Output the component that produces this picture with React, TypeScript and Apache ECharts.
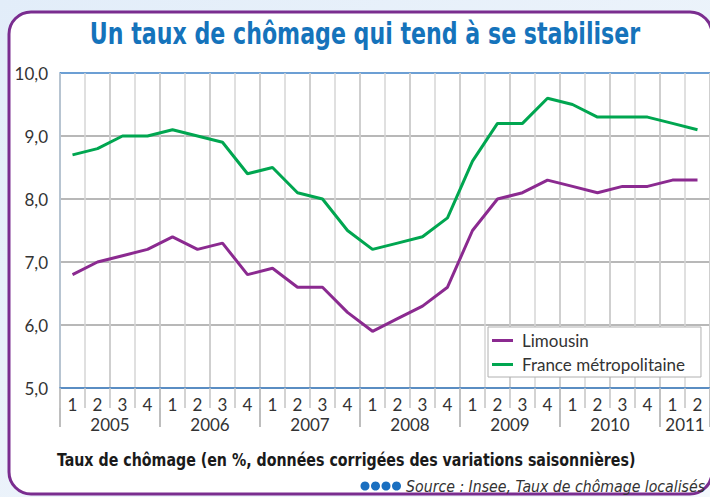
import React, { useEffect, useRef } from "react";
import * as echarts from "echarts";

const years = ["2005", "2006", "2007", "2008", "2009", "2010", "2011"];
const quarterIds = [
  "2005-1", "2005-2", "2005-3", "2005-4",
  "2006-1", "2006-2", "2006-3", "2006-4",
  "2007-1", "2007-2", "2007-3", "2007-4",
  "2008-1", "2008-2", "2008-3", "2008-4",
  "2009-1", "2009-2", "2009-3", "2009-4",
  "2010-1", "2010-2", "2010-3", "2010-4",
  "2011-1", "2011-2",
];
const limousin = [
  6.8, 7.0, 7.1, 7.2,
  7.4, 7.2, 7.3, 6.8,
  6.9, 6.6, 6.6, 6.2,
  5.9, 6.1, 6.3, 6.6,
  7.5, 8.0, 8.1, 8.3,
  8.2, 8.1, 8.2, 8.2,
  8.3, 8.3,
];
const france = [
  8.7, 8.8, 9.0, 9.0,
  9.1, 9.0, 8.9, 8.4,
  8.5, 8.1, 8.0, 7.5,
  7.2, 7.3, 7.4, 7.7,
  8.6, 9.2, 9.2, 9.6,
  9.5, 9.3, 9.3, 9.3,
  9.2, 9.1,
];
const yearLabelIdx = [1, 5, 9, 13, 17, 21, 24];

const TXT = "Lato, 'Open Sans', sans-serif";
const NARROW = "'Liberation Sans Narrow', 'DejaVu Sans Condensed', sans-serif";
const BLUE_AXIS = "#3b7fc6";

export default function App() {
  const ref = useRef<HTMLDivElement>(null);
  useEffect(() => {
    const chart = echarts.init(ref.current!, null, { renderer: "svg" });
    chart.setOption({
      animation: false,
      backgroundColor: {
        type: "linear", x: 0, y: 0, x2: 1, y2: 1,
        colorStops: [
          { offset: 0, color: "#e2edf9" },
          { offset: 1, color: "#f4f8fc" },
        ],
      },
      graphic: [
        {
          type: "rect", z: -10, silent: true,
          shape: { x: 9, y: 12, width: 703, height: 482, r: 22 },
          style: { fill: "#ffffff", stroke: "#7a2d8f", lineWidth: 3 },
        },
        {
          type: "text", x: 365, y: 34, z: 10,
          scaleX: 0.82,
          style: {
            text: "Un taux de chômage qui tend à se stabiliser",
            font: `bold 30px ${NARROW}`,
            fill: "#1573bb", align: "center", verticalAlign: "middle",
          },
        },
        {
          type: "text", x: 57, y: 460, z: 10,
          scaleX: 0.93,
          style: {
            text: "Taux de chômage (en %, données corrigées des variations saisonnières)",
            font: `bold 17px ${NARROW}`,
            fill: "#1a1a1a", align: "left", verticalAlign: "middle",
          },
        },
        ...[0, 1, 2, 3].map((i) => ({
          type: "circle", z: 10,
          shape: { cx: 365 + i * 10.5, cy: 486, r: 4.5 },
          style: { fill: "#1a6fc0" },
        })),
        {
          type: "text", x: 705, y: 486, z: 10,
          style: {
            text: "Source : Insee, Taux de chômage localisés",
            font: `italic 15.7px ${NARROW}`,
            fill: "#333333", align: "right", verticalAlign: "middle",
          },
        },
      ],
      legend: {
        show: true,
        orient: "vertical",
        left: 488, top: 327,
        backgroundColor: "#ffffff",
        borderColor: "#b0b0b0", borderWidth: 1, borderRadius: 0,
        padding: [5, 16, 4, 4],
        icon: "rect",
        itemWidth: 21, itemHeight: 3, itemGap: 7,
        textStyle: { fontFamily: TXT, fontSize: 17, color: "#333333", padding: [0, 0, 0, 4] },
        data: ["Limousin", "France métropolitaine"],
      },
      grid: { left: 60, right: 0, top: 73, bottom: 109, containLabel: false, outerBoundsMode: "none" },
      xAxis: [
        {
          type: "category", data: quarterIds, boundaryGap: true, position: "bottom",
          axisLine: { show: true, lineStyle: { color: BLUE_AXIS, width: 1.5 } },
          axisTick: { show: true, interval: 0, length: 20, lineStyle: { color: "#c4c4c4", width: 1.5 } },
          axisLabel: {
            interval: 0, margin: 8, fontFamily: TXT, fontSize: 17, color: "#333333",
            formatter: (v: string) => v.split("-")[1],
          },
          splitLine: { show: true, interval: 0, lineStyle: { color: "#d6d6d6", width: 1.5 } },
          z: 3,
        },
        {
          type: "category", data: quarterIds, boundaryGap: true, position: "bottom",
          axisLine: { show: false },
          axisTick: {
            show: true, length: 39,
            interval: (i: number) => i % 4 === 0,
            lineStyle: { color: "#a8a8a8", width: 1.5 },
          },
          axisLabel: {
            margin: 28, fontFamily: TXT, fontSize: 17, color: "#333333",
            padding: [0, 0, 0, 25],
            interval: (i: number) => yearLabelIdx.indexOf(i) >= 0,
            formatter: (v: string) => v.split("-")[0],
          },
          splitLine: {
            show: true,
            interval: (i: number) => i % 2 === 0,
            lineStyle: { color: "#a6a6a6", width: 1.5 },
          },
        },
      ],
      yAxis: {
        type: "value", min: 5, max: 10, interval: 1,
        axisLine: { show: true, lineStyle: { color: BLUE_AXIS, width: 1.5 } },
        axisTick: { show: false },
        axisLabel: {
          margin: 12, fontFamily: TXT, fontSize: 17, color: "#333333",
          formatter: (v: number) => v.toFixed(1).replace(".", ","),
        },
        splitLine: {
          show: true,
          lineStyle: {
            color: ["#a0a0a0", "#a0a0a0", "#a0a0a0", "#a0a0a0", "#a0a0a0", BLUE_AXIS],
            width: 1.5,
          },
        },
      },
      series: [
        {
          name: "Limousin", type: "line", data: limousin, xAxisIndex: 0,
          symbol: "none", z: 5,
          lineStyle: { color: "#8b2a90", width: 3 },
          itemStyle: { color: "#8b2a90" },
        },
        {
          name: "France métropolitaine", type: "line", data: france, xAxisIndex: 0,
          symbol: "none", z: 5,
          lineStyle: { color: "#00a650", width: 3 },
          itemStyle: { color: "#00a650" },
        },
      ],
    });
    return () => chart.dispose();
  }, []);
  return (
    <div
      ref={ref}
      style={{ position: "fixed", left: 0, top: 0, width: 710, height: 497 }}
    />
  );
}
